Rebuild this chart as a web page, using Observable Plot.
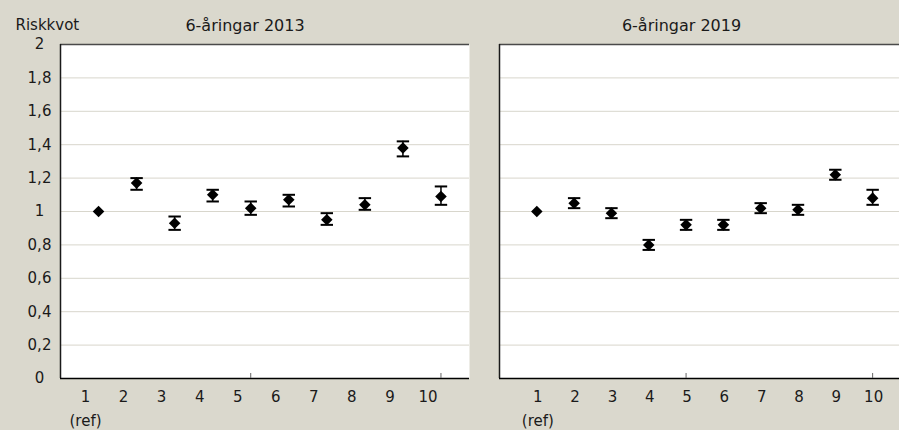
<!DOCTYPE html>
<html><head><meta charset="utf-8">
<script src="https://cdn.jsdelivr.net/npm/d3@7"></script>
<script src="https://cdn.jsdelivr.net/npm/@observablehq/plot@0.6"></script>
<style>
html,body{margin:0;padding:0;background:#dad8cd;}
#wrap{display:flex;width:899px;height:430px;overflow:hidden;}
svg{display:block;}
</style></head><body><div id="wrap"></div>
<script>
// ---- data ----
const groups = [1, 2, 3, 4, 5, 6, 7, 8, 9, 10];
const tickLabels = ["1\n(ref)", "2", "3", "4", "5", "6", "7", "8", "9", "10"];
const titles = ["6-åringar 2013", "6-åringar 2019"];
const yLabel = "Riskkvot";
const yTicks = [0, 0.2, 0.4, 0.6, 0.8, 1, 1.2, 1.4, 1.6, 1.8, 2];

const rr2013 = [1.00, 1.17, 0.93, 1.10, 1.02, 1.07, 0.95, 1.04, 1.38, 1.09];
const lo2013 = [null, 1.13, 0.89, 1.06, 0.98, 1.03, 0.92, 1.01, 1.33, 1.04];
const hi2013 = [null, 1.20, 0.97, 1.13, 1.06, 1.10, 0.99, 1.08, 1.42, 1.15];

const rr2019 = [1.00, 1.05, 0.99, 0.80, 0.92, 0.92, 1.02, 1.01, 1.22, 1.08];
const lo2019 = [null, 1.02, 0.96, 0.77, 0.89, 0.89, 0.99, 0.98, 1.19, 1.04];
const hi2019 = [null, 1.08, 1.02, 0.83, 0.95, 0.95, 1.05, 1.04, 1.25, 1.13];

// ---- drawing ----
const FONT = "'DejaVu Sans', sans-serif";
const capSymbol = {
  draw(ctx, size) {
    const w = Math.sqrt(size) / 2;
    ctx.moveTo(-w, 0);
    ctx.lineTo(w, 0);
  }
};

function panel({rr, lo, hi, title, width, marginLeft, marginRight, xMax, showY, labelDx, titleDx}) {
  const rows = groups.map((g, k) => ({g, rr: rr[k], lo: lo[k], hi: hi[k]}));
  const withCI = rows.filter(d => d.lo != null);
  const marks = [
    Plot.frame({fill: "white", stroke: "none"}),
    Plot.ruleY(yTicks.filter(v => v > 0 && v < 2), {stroke: "#d8d6cc", strokeWidth: 1}),
    Plot.ruleY([2], {stroke: "#4a4a4a", strokeWidth: 1.5}),
    Plot.ruleX([0], {stroke: "#1a1a1a", strokeWidth: 1.5}),
    Plot.ruleY([0], {stroke: "#000", strokeWidth: 1.5}),
    Plot.ruleX([5, 10], {y1: 0, y2: 0.03, stroke: "#666", strokeWidth: 1}),
    Plot.ruleX(withCI, {x: "g", y1: "lo", y2: "hi", stroke: "#000", strokeWidth: 1.5}),
    Plot.dot(withCI, {x: "g", y: "lo", symbol: capSymbol, r: 7, stroke: "#000", strokeWidth: 2}),
    Plot.dot(withCI, {x: "g", y: "hi", symbol: capSymbol, r: 7, stroke: "#000", strokeWidth: 2}),
    Plot.dot(rows, {x: "g", y: "rr", symbol: "diamond2", r: 5.2, fill: "#000", stroke: "none"}),
    Plot.text(groups, {
      x: d => d, text: (d, i) => tickLabels[i], frameAnchor: "bottom",
      lineAnchor: "top", dy: 6, dx: labelDx, lineHeight: 1.6,
      fontSize: 15, fill: "#1a1a1a"
    }),
    Plot.text([title], {frameAnchor: "top", lineAnchor: "middle", dy: -19, dx: titleDx, fontSize: 16, fill: "#1a1a1a"})
  ];
  if (showY) {
    marks.push(
      Plot.text(yTicks, {
        y: d => d, text: d => String(d).replace(".", ","), frameAnchor: "left",
        textAnchor: "middle", lineAnchor: "middle", dx: -21, fontSize: 15, fill: "#1a1a1a"
      }),
      Plot.text([yLabel], {
        frameAnchor: "top-left", textAnchor: "start", lineAnchor: "middle", dx: -45, dy: -19,
        fontSize: 15, fill: "#1a1a1a"
      })
    );
  }
  return Plot.plot({
    width, height: 430,
    marginLeft, marginRight, marginTop: 44, marginBottom: 52,
    style: {background: "transparent", fontFamily: FONT, overflow: "visible"},
    x: {domain: [0, xMax], axis: null},
    y: {domain: [0, 2], axis: null},
    marks
  });
}

const wrap = document.getElementById("wrap");
wrap.append(panel({
  rr: rr2013, lo: lo2013, hi: hi2013, title: titles[0],
  width: 470, marginLeft: 60, marginRight: 1, xMax: 10.75,
  showY: true, labelDx: -13, titleDx: -20
}));
wrap.append(panel({
  rr: rr2019, lo: lo2019, hi: hi2019, title: titles[1],
  width: 429, marginLeft: 29, marginRight: 0, xMax: 10.72,
  showY: false, labelDx: 1, titleDx: -18
}));
</script></body></html>
